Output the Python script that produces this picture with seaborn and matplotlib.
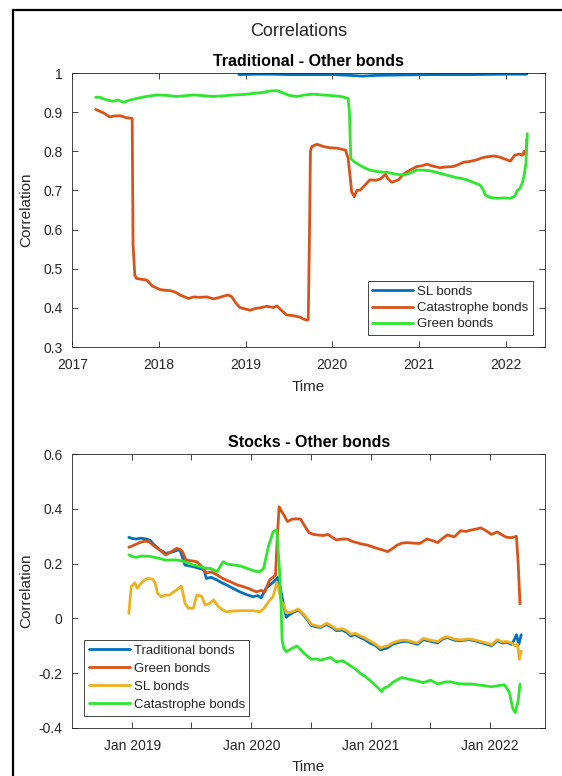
import numpy as np
import pandas as pd
import matplotlib
matplotlib.use("Agg")
import matplotlib.pyplot as plt
import matplotlib.dates as mdates
from matplotlib.lines import Line2D
from matplotlib.ticker import FuncFormatter, MultipleLocator
import seaborn as sns

# ---------------------------------------------------------------------------
# Rolling correlations, time given in decimal years
# ---------------------------------------------------------------------------

# Traditional bonds vs. other bonds
trad_sl_t = [2018.92, 2019.10, 2019.30, 2019.50, 2019.70, 2020.00, 2020.20, 2020.35,
             2020.50, 2020.80, 2021.20, 2021.60, 2022.00, 2022.24]
trad_sl_v = [0.996, 0.997, 0.997, 0.996, 0.996, 0.996, 0.994, 0.992,
             0.994, 0.995, 0.996, 0.996, 0.997, 0.997]

trad_cat_t = [2017.27, 2017.31, 2017.36, 2017.43, 2017.48, 2017.55, 2017.62, 2017.69,
              2017.70, 2017.72, 2017.74, 2017.80, 2017.86, 2017.92, 2018.01, 2018.07,
              2018.13, 2018.19, 2018.24, 2018.34, 2018.40, 2018.47, 2018.55, 2018.63,
              2018.70, 2018.76, 2018.80, 2018.84, 2018.88, 2018.93, 2019.05, 2019.10,
              2019.16, 2019.24, 2019.32, 2019.36, 2019.40, 2019.44, 2019.47, 2019.55,
              2019.63, 2019.66, 2019.70, 2019.72, 2019.735, 2019.745, 2019.76, 2019.82,
              2019.90, 2019.97, 2020.05, 2020.15, 2020.18, 2020.21, 2020.22, 2020.25,
              2020.28, 2020.32, 2020.38, 2020.43, 2020.50, 2020.55, 2020.61, 2020.64,
              2020.68, 2020.72, 2020.76, 2020.81, 2020.86, 2020.92, 2020.97, 2021.03,
              2021.09, 2021.16, 2021.24, 2021.30, 2021.39, 2021.45, 2021.51, 2021.58,
              2021.66, 2021.72, 2021.78, 2021.86, 2021.93, 2021.99, 2022.05, 2022.10,
              2022.15, 2022.19, 2022.21, 2022.23, 2022.24]
trad_cat_v = [0.907, 0.903, 0.898, 0.888, 0.890, 0.891, 0.886, 0.884,
              0.560, 0.484, 0.475, 0.473, 0.471, 0.456, 0.447, 0.445,
              0.444, 0.440, 0.433, 0.424, 0.428, 0.427, 0.428, 0.423,
              0.427, 0.431, 0.433, 0.428, 0.414, 0.401, 0.394, 0.398,
              0.400, 0.404, 0.401, 0.405, 0.396, 0.388, 0.382, 0.380,
              0.376, 0.372, 0.369, 0.370, 0.600, 0.800, 0.812, 0.818,
              0.812, 0.809, 0.808, 0.803, 0.782, 0.720, 0.697, 0.684,
              0.700, 0.701, 0.715, 0.727, 0.726, 0.729, 0.741, 0.730,
              0.721, 0.724, 0.727, 0.740, 0.748, 0.755, 0.761, 0.763,
              0.767, 0.762, 0.758, 0.760, 0.761, 0.766, 0.772, 0.774,
              0.778, 0.783, 0.786, 0.788, 0.785, 0.780, 0.775, 0.790,
              0.793, 0.790, 0.800, 0.790, 0.830]

trad_green_t = [2017.27, 2017.32, 2017.36, 2017.42, 2017.47, 2017.53, 2017.59, 2017.65,
                2017.74, 2017.85, 2017.97, 2018.08, 2018.20, 2018.30, 2018.40, 2018.52,
                2018.63, 2018.75, 2018.86, 2018.97, 2019.09, 2019.18, 2019.28, 2019.36,
                2019.42, 2019.50, 2019.59, 2019.68, 2019.78, 2019.88, 2020.01, 2020.10,
                2020.18, 2020.195, 2020.21, 2020.24, 2020.28, 2020.35, 2020.43, 2020.52,
                2020.63, 2020.72, 2020.82, 2020.90, 2020.97, 2021.05, 2021.13, 2021.22,
                2021.32, 2021.42, 2021.50, 2021.55, 2021.63, 2021.70, 2021.74, 2021.76,
                2021.82, 2021.90, 2021.98, 2022.05, 2022.10, 2022.13, 2022.16, 2022.19,
                2022.21, 2022.23, 2022.245]
trad_green_v = [0.938, 0.938, 0.934, 0.930, 0.928, 0.931, 0.925, 0.930,
                0.935, 0.940, 0.944, 0.943, 0.940, 0.942, 0.944, 0.942,
                0.940, 0.942, 0.944, 0.945, 0.948, 0.950, 0.954, 0.955,
                0.950, 0.943, 0.940, 0.944, 0.946, 0.944, 0.942, 0.940,
                0.935, 0.900, 0.782, 0.775, 0.769, 0.760, 0.752, 0.748,
                0.746, 0.742, 0.739, 0.745, 0.752, 0.752, 0.750, 0.745,
                0.739, 0.733, 0.730, 0.727, 0.720, 0.714, 0.700, 0.688,
                0.682, 0.680, 0.681, 0.680, 0.685, 0.700, 0.705, 0.720,
                0.740, 0.770, 0.845]

# Stocks vs. other bonds
stk_trad_t = [2018.97, 2019.00, 2019.03, 2019.07, 2019.12, 2019.15, 2019.17, 2019.20,
              2019.23, 2019.28, 2019.34, 2019.38, 2019.40, 2019.43, 2019.44, 2019.51,
              2019.56, 2019.60, 2019.62, 2019.66, 2019.71, 2019.75, 2019.79, 2019.85,
              2019.90, 2019.95, 2020.01, 2020.05, 2020.08, 2020.12, 2020.16, 2020.20,
              2020.22, 2020.25, 2020.27, 2020.29, 2020.32, 2020.35, 2020.39, 2020.42,
              2020.45, 2020.50, 2020.55, 2020.58, 2020.63, 2020.67, 2020.71, 2020.76,
              2020.80, 2020.83, 2020.87, 2020.91, 2020.95, 2020.99, 2021.04, 2021.08,
              2021.14, 2021.18, 2021.22, 2021.26, 2021.30, 2021.35, 2021.39, 2021.44,
              2021.50, 2021.56, 2021.60, 2021.64, 2021.70, 2021.75, 2021.82, 2021.87,
              2021.95, 2022.01, 2022.06, 2022.10, 2022.14, 2022.18, 2022.20, 2022.22,
              2022.24, 2022.26]
stk_trad_v = [0.296, 0.292, 0.290, 0.293, 0.290, 0.285, 0.274, 0.262,
              0.250, 0.238, 0.243, 0.250, 0.248, 0.210, 0.195, 0.189,
              0.183, 0.177, 0.146, 0.150, 0.140, 0.130, 0.122, 0.108,
              0.097, 0.088, 0.079, 0.083, 0.075, 0.110, 0.125, 0.140,
              0.150, 0.090, 0.043, 0.004, 0.015, 0.022, 0.030, 0.020,
              0.004, -0.026, -0.032, -0.033, -0.022, -0.032, -0.045, -0.043,
              -0.052, -0.064, -0.060, -0.070, -0.078, -0.090, -0.100, -0.115,
              -0.108, -0.095, -0.090, -0.085, -0.084, -0.090, -0.095, -0.078,
              -0.084, -0.090, -0.076, -0.070, -0.080, -0.082, -0.078, -0.082,
              -0.092, -0.100, -0.082, -0.090, -0.088, -0.095, -0.080, -0.060,
              -0.095, -0.060]

stk_green_t = [2018.97, 2019.00, 2019.06, 2019.10, 2019.14, 2019.18, 2019.23, 2019.28,
               2019.33, 2019.37, 2019.40, 2019.42, 2019.45, 2019.50, 2019.54, 2019.58,
               2019.62, 2019.66, 2019.71, 2019.76, 2019.82, 2019.88, 2019.93, 2019.98,
               2020.04, 2020.08, 2020.11, 2020.15, 2020.20, 2020.215, 2020.23, 2020.25,
               2020.27, 2020.30, 2020.34, 2020.38, 2020.41, 2020.44, 2020.48, 2020.52,
               2020.55, 2020.60, 2020.64, 2020.68, 2020.71, 2020.76, 2020.80, 2020.84,
               2020.88, 2020.92, 2020.97, 2021.01, 2021.05, 2021.10, 2021.14, 2021.18,
               2021.22, 2021.26, 2021.30, 2021.36, 2021.41, 2021.47, 2021.51, 2021.56,
               2021.60, 2021.64, 2021.70, 2021.75, 2021.80, 2021.84, 2021.88, 2021.92,
               2021.96, 2022.01, 2022.06, 2022.10, 2022.14, 2022.18, 2022.22, 2022.235,
               2022.25]
stk_green_v = [0.260, 0.265, 0.277, 0.282, 0.280, 0.265, 0.250, 0.232,
               0.245, 0.256, 0.252, 0.243, 0.213, 0.210, 0.207, 0.190,
               0.165, 0.170, 0.159, 0.145, 0.134, 0.122, 0.116, 0.108,
               0.097, 0.102, 0.097, 0.140, 0.158, 0.300, 0.408, 0.392,
               0.378, 0.354, 0.363, 0.364, 0.363, 0.341, 0.313, 0.307,
               0.305, 0.303, 0.307, 0.295, 0.287, 0.290, 0.290, 0.282,
               0.277, 0.272, 0.268, 0.262, 0.256, 0.250, 0.244, 0.255,
               0.268, 0.275, 0.277, 0.275, 0.274, 0.290, 0.285, 0.277,
               0.292, 0.305, 0.298, 0.320, 0.318, 0.323, 0.326, 0.331,
               0.322, 0.307, 0.316, 0.305, 0.296, 0.295, 0.300, 0.200,
               0.053]

stk_sl_t = [2018.97, 2018.99, 2019.02, 2019.04, 2019.07, 2019.10, 2019.13, 2019.17,
            2019.19, 2019.21, 2019.24, 2019.28, 2019.31, 2019.34, 2019.37, 2019.41,
            2019.43, 2019.44, 2019.47, 2019.51, 2019.54, 2019.58, 2019.61, 2019.65,
            2019.68, 2019.72, 2019.76, 2019.79, 2019.85, 2019.92, 2020.01, 2020.07,
            2020.10, 2020.14, 2020.18, 2020.21, 2020.23, 2020.25, 2020.27, 2020.29,
            2020.32, 2020.35, 2020.39, 2020.42, 2020.45, 2020.50, 2020.55, 2020.58,
            2020.63, 2020.67, 2020.71, 2020.76, 2020.80, 2020.83, 2020.87, 2020.91,
            2020.95, 2020.99, 2021.04, 2021.08, 2021.14, 2021.18, 2021.22, 2021.26,
            2021.30, 2021.35, 2021.39, 2021.44, 2021.50, 2021.56, 2021.60, 2021.64,
            2021.70, 2021.75, 2021.82, 2021.87, 2021.95, 2022.01, 2022.06, 2022.10,
            2022.14, 2022.18, 2022.21, 2022.23, 2022.245, 2022.26]
stk_sl_v = [0.018, 0.116, 0.130, 0.110, 0.127, 0.140, 0.146, 0.143,
            0.130, 0.092, 0.079, 0.085, 0.085, 0.095, 0.104, 0.118,
            0.080, 0.055, 0.037, 0.037, 0.085, 0.081, 0.049, 0.055,
            0.068, 0.043, 0.030, 0.024, 0.027, 0.028, 0.028, 0.024,
            0.035, 0.060, 0.080, 0.130, 0.100, 0.060, 0.050, 0.020,
            0.022, 0.026, 0.034, 0.022, 0.008, -0.022, -0.028, -0.030,
            -0.018, -0.028, -0.040, -0.038, -0.046, -0.058, -0.055, -0.064,
            -0.072, -0.082, -0.095, -0.108, -0.100, -0.090, -0.084, -0.080,
            -0.080, -0.086, -0.090, -0.073, -0.080, -0.085, -0.072, -0.067,
            -0.076, -0.079, -0.075, -0.079, -0.088, -0.096, -0.078, -0.086,
            -0.085, -0.090, -0.100, -0.095, -0.150, -0.120]

stk_cat_t = [2018.97, 2019.00, 2019.03, 2019.08, 2019.14, 2019.20, 2019.28, 2019.36,
             2019.42, 2019.51, 2019.56, 2019.62, 2019.66, 2019.71, 2019.76, 2019.80,
             2019.85, 2019.90, 2019.98, 2020.03, 2020.07, 2020.10, 2020.14, 2020.18,
             2020.21, 2020.23, 2020.245, 2020.255, 2020.27, 2020.29, 2020.33, 2020.38,
             2020.44, 2020.50, 2020.54, 2020.58, 2020.62, 2020.66, 2020.71, 2020.76,
             2020.80, 2020.83, 2020.87, 2020.91, 2020.95, 2020.99, 2021.02, 2021.05,
             2021.09, 2021.11, 2021.14, 2021.19, 2021.26, 2021.31, 2021.36, 2021.44,
             2021.50, 2021.56, 2021.62, 2021.67, 2021.72, 2021.78, 2021.84, 2021.89,
             2021.95, 2022.01, 2022.07, 2022.12, 2022.16, 2022.19, 2022.21, 2022.235,
             2022.25]
stk_cat_v = [0.232, 0.226, 0.223, 0.228, 0.227, 0.222, 0.213, 0.214,
             0.210, 0.195, 0.190, 0.183, 0.182, 0.171, 0.207, 0.198,
             0.195, 0.192, 0.180, 0.172, 0.171, 0.183, 0.262, 0.317,
             0.323, 0.200, 0.067, -0.079, -0.110, -0.122, -0.112, -0.101,
             -0.128, -0.150, -0.148, -0.153, -0.148, -0.143, -0.159, -0.155,
             -0.165, -0.174, -0.185, -0.201, -0.212, -0.226, -0.238, -0.250,
             -0.268, -0.255, -0.250, -0.232, -0.216, -0.222, -0.226, -0.235,
             -0.226, -0.240, -0.233, -0.232, -0.238, -0.240, -0.240, -0.243,
             -0.246, -0.250, -0.246, -0.243, -0.270, -0.330, -0.345, -0.300,
             -0.240]

top_labels = ["SL bonds", "Catastrophe bonds", "Green bonds"]
bottom_labels = ["Traditional bonds", "Green bonds", "SL bonds", "Catastrophe bonds"]

BLUE, ORANGE, YELLOW, GREEN = "#0072BD", "#D95319", "#EDB120", "#2DE62D"
INK = "#262626"


def to_dates(years):
    years = np.asarray(years, dtype=float)
    return pd.Timestamp("2017-01-01") + pd.to_timedelta((years - 2017.0) * 365.25, unit="D")


sns.set_theme(style="white")
plt.rcParams["font.family"] = ["Liberation Sans", "DejaVu Sans"]

fig = plt.figure(figsize=(5.62, 7.76), dpi=100)
ax1 = fig.add_axes([0.1287, 0.5528, 0.8411, 0.3531])
ax2 = fig.add_axes([0.1287, 0.0622, 0.8411, 0.3524])

top_series = [(trad_sl_t, trad_sl_v, BLUE),
              (trad_cat_t, trad_cat_v, ORANGE),
              (trad_green_t, trad_green_v, GREEN)]
for (t, v, c), name in zip(top_series, top_labels):
    sns.lineplot(x=to_dates(t), y=v, ax=ax1, color=c, lw=2.0, label=name,
                 estimator=None, sort=False, legend=False)

bottom_series = [(stk_trad_t, stk_trad_v, BLUE),
                 (stk_green_t, stk_green_v, ORANGE),
                 (stk_sl_t, stk_sl_v, YELLOW),
                 (stk_cat_t, stk_cat_v, GREEN)]
for (t, v, c), name in zip(bottom_series, bottom_labels):
    sns.lineplot(x=to_dates(t), y=v, ax=ax2, color=c, lw=2.0, label=name,
                 estimator=None, sort=False, legend=False)

num_fmt = FuncFormatter(lambda v, p: f"{v:g}" if abs(v) > 1e-9 else "0")

# Upper panel axes
ax1.set_xlim(to_dates([2017.0])[0], to_dates([2022.45])[0])
ax1.set_ylim(0.3, 1.0)
ax1.xaxis.set_major_locator(mdates.YearLocator())
ax1.xaxis.set_major_formatter(mdates.DateFormatter("%Y"))
ax1.yaxis.set_major_locator(MultipleLocator(0.1))
ax1.yaxis.set_major_formatter(num_fmt)
ax1.set_title("Traditional - Other bonds", fontsize=11.5, fontweight="bold",
              color="black", pad=5)

# Lower panel axes
ax2.set_xlim(to_dates([2018.496])[0], to_dates([2022.46])[0])
ax2.set_ylim(-0.4, 0.6)
ax2.xaxis.set_major_locator(mdates.MonthLocator(bymonth=[1, 7]))


def jan_only(x, pos):
    d = mdates.num2date(x)
    return d.strftime("%b %Y") if d.month == 1 else ""


ax2.xaxis.set_major_formatter(FuncFormatter(jan_only))
ax2.yaxis.set_major_locator(MultipleLocator(0.2))
ax2.yaxis.set_major_formatter(num_fmt)
ax2.set_title("Stocks - Other bonds", fontsize=11.5, fontweight="bold",
              color="black", pad=5)

for ax in (ax1, ax2):
    ax.set_xlabel("Time", fontsize=11, color=INK, labelpad=5.5)
    ax.set_ylabel("Correlation", fontsize=11, color=INK)
    ax.yaxis.set_label_coords(-0.083, 0.5)
    ax.tick_params(direction="in", length=4, width=0.6, colors=INK,
                   labelsize=10, top=True, right=True, bottom=True, left=True,
                   labeltop=False, labelright=False)
    ax.tick_params(axis="x", pad=8)
    ax.tick_params(axis="y", pad=7)
    ax.grid(False)
    for sp in ax.spines.values():
        sp.set_visible(True)
        sp.set_color(INK)
        sp.set_linewidth(0.6)

leg_kw = dict(fontsize=9.5, frameon=True, fancybox=False, framealpha=1,
              edgecolor=INK, handlelength=3.1, handletextpad=0.3,
              borderpad=0.35, borderaxespad=0)
l1 = ax1.legend(loc="lower right", bbox_to_anchor=(0.975, 0.044),
                labelspacing=0.3, **leg_kw)
l2 = ax2.legend(loc="lower left", bbox_to_anchor=(0.025, 0.044),
                labelspacing=0.45, **leg_kw)
for lg in (l1, l2):
    lg.get_frame().set_linewidth(0.6)

fig.text(299 / 562, 1 - 32 / 776, "Correlations", ha="center", va="center",
         fontsize=13, color=INK)

# Window frame along the left and top edges
fig.add_artist(Line2D([13 / 562, 13 / 562], [0, 1 - 10 / 776],
                      transform=fig.transFigure, color="black", lw=1.6))
fig.add_artist(Line2D([13 / 562, 1], [1 - 10 / 776, 1 - 10 / 776],
                      transform=fig.transFigure, color="black", lw=1.6))

fig.savefig("out.png", dpi=100, facecolor="white")
